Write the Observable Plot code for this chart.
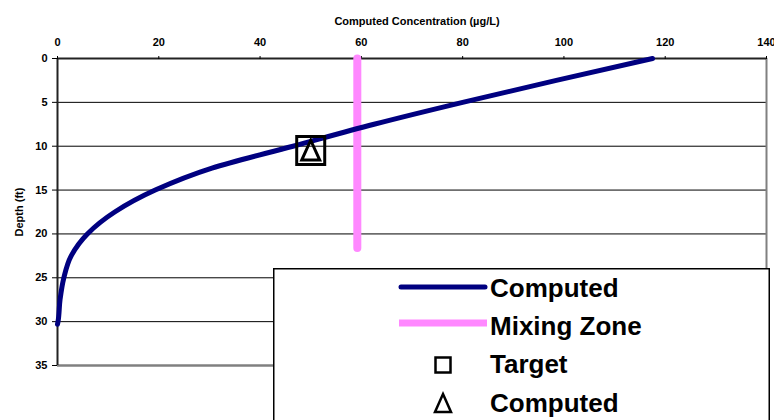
<!DOCTYPE html>
<html>
<head>
<meta charset="utf-8">
<script src="https://cdn.jsdelivr.net/npm/d3@7"></script>
<script src="https://cdn.jsdelivr.net/npm/@observablehq/plot@0.6"></script>
<style>
  body { margin: 0; background: #fff; }
  #wrap { position: relative; width: 774px; height: 420px; overflow: hidden; background: #fff; }
  #legend { position: absolute; left: 273px; top: 268px; }
</style>
</head>
<body>
<div id="wrap"><div id="chart"></div><div id="legend"></div></div>
<script>
// ---- data ----
const depth = [0, 2.5, 5, 7.5, 10, 12.5, 15, 17.5, 20, 22.5, 25, 27.5, 30, 30.3];
const concentration = [117.5, 98.5, 80, 62.5, 46.5, 30.5, 19.3, 11.3, 5.9, 2.7, 1.25, 0.5, 0.1, 0];
const mixingZoneX = [59.2, 59.2];
const mixingZoneDepth = [0, 21.6];
const targetX = [50];
const targetDepth = [10.5];
const computedPointX = [50];
const computedPointDepth = [10.5];
const xTicks = [0, 20, 40, 60, 80, 100, 120, 140];
const yTicks = [0, 5, 10, 15, 20, 25, 30, 35];
const gridDepths = [5, 10, 15, 20, 25, 30];
const legendLabels = ["Computed", "Mixing Zone", "Target", "Computed"];

const navy = "#000080";
const pink = "#ff88ff";

const curveData = depth.map((d, i) => ({depth: d, conc: concentration[i]}));
const mixData = mixingZoneDepth.map((d, i) => ({depth: d, conc: mixingZoneX[i]}));
const targetData = targetDepth.map((d, i) => ({depth: d, conc: targetX[i]}));
const compData = computedPointDepth.map((d, i) => ({depth: d, conc: computedPointX[i]}));

const triangle = {
  draw(ctx, size) {
    const r = Math.sqrt(size / Math.PI);
    ctx.moveTo(0, -1.15 * r);
    ctx.lineTo(r, 1.05 * r);
    ctx.lineTo(-r, 1.05 * r);
    ctx.closePath();
  }
};

const chart = Plot.plot({
  width: 774,
  height: 420,
  marginLeft: 57,
  marginRight: 8,
  marginTop: 58,
  marginBottom: 55,
  style: {fontFamily: "'Liberation Sans', Arial, sans-serif", fontSize: "11px", fontWeight: "bold", background: "white", color: "black"},
  x: {domain: [0, 140]},
  y: {domain: [0, 35], reverse: true},
  marks: [
    Plot.ruleY(gridDepths, {stroke: "black", strokeWidth: 1}),
    Plot.ruleX([140], {stroke: "#808080", strokeWidth: 2}),
    Plot.ruleY([35], {stroke: "#808080", strokeWidth: 2.5}),
    Plot.ruleY([0], {stroke: "#222", strokeWidth: 2}),
    Plot.ruleX([0], {stroke: "#222", strokeWidth: 2}),
    Plot.axisX({anchor: "top", ticks: xTicks, tickSize: 3, tickPadding: 10, label: null, fontWeight: "bold"}),
    Plot.axisY({anchor: "left", ticks: yTicks, tickSize: 5, tickPadding: 5, label: null, fontWeight: "bold"}),
    Plot.text(["Computed Concentration (µg/L)"], {frameAnchor: "top", dx: 5, dy: -41, fontWeight: "bold", fontSize: 11}),
    Plot.text(["Depth (ft)"], {frameAnchor: "left", dx: -38, rotate: -90, textAnchor: "middle", lineAnchor: "middle", fontWeight: "bold", fontSize: 11}),
    Plot.line(mixData, {x: "conc", y: "depth", stroke: pink, strokeWidth: 8}),
    Plot.line(curveData, {x: "conc", y: "depth", stroke: navy, strokeWidth: 5, curve: "monotone-y", strokeLinecap: "round"}),
    Plot.dot(targetData, {x: "conc", y: "depth", symbol: "square", r: 15.8, stroke: "black", strokeWidth: 3, fill: "none"}),
    Plot.dot(compData, {x: "conc", y: "depth", symbol: triangle, r: 9, stroke: "black", strokeWidth: 3, fill: "none"})
  ]
});
document.getElementById("chart").appendChild(chart);

// ---- legend ----
const lw = 497, lh = 160;
const lsvg = d3.select("#legend").append("svg").attr("width", lw).attr("height", lh)
  .style("font-family", "'Liberation Sans', Arial, sans-serif");
lsvg.append("rect").attr("x", 0.75).attr("y", 0.75).attr("width", lw - 1.5).attr("height", lh)
  .attr("fill", "white").attr("stroke", "black").attr("stroke-width", 1.5);
const rowsY = [29, 67, 105, 144];
lsvg.append("line").attr("x1", 128).attr("x2", 212).attr("y1", 19).attr("y2", 19)
  .attr("stroke", navy).attr("stroke-width", 5).attr("stroke-linecap", "round");
lsvg.append("line").attr("x1", 126).attr("x2", 214).attr("y1", 55).attr("y2", 55)
  .attr("stroke", pink).attr("stroke-width", 7);
lsvg.append("rect").attr("x", 170 - 7.5).attr("y", 97 - 7.5).attr("width", 15).attr("height", 15)
  .attr("fill", "none").attr("stroke", "black").attr("stroke-width", 2.5);
lsvg.append("path").attr("d", "M170,126 L178,144 L162,144 Z")
  .attr("fill", "none").attr("stroke", "black").attr("stroke-width", 2.5).attr("stroke-linejoin", "miter");
legendLabels.forEach((t, i) => {
  lsvg.append("text").attr("x", 217).attr("y", rowsY[i]).text(t)
    .attr("font-size", 26).attr("font-weight", "bold").attr("fill", "black");
});
</script>
</body>
</html>
